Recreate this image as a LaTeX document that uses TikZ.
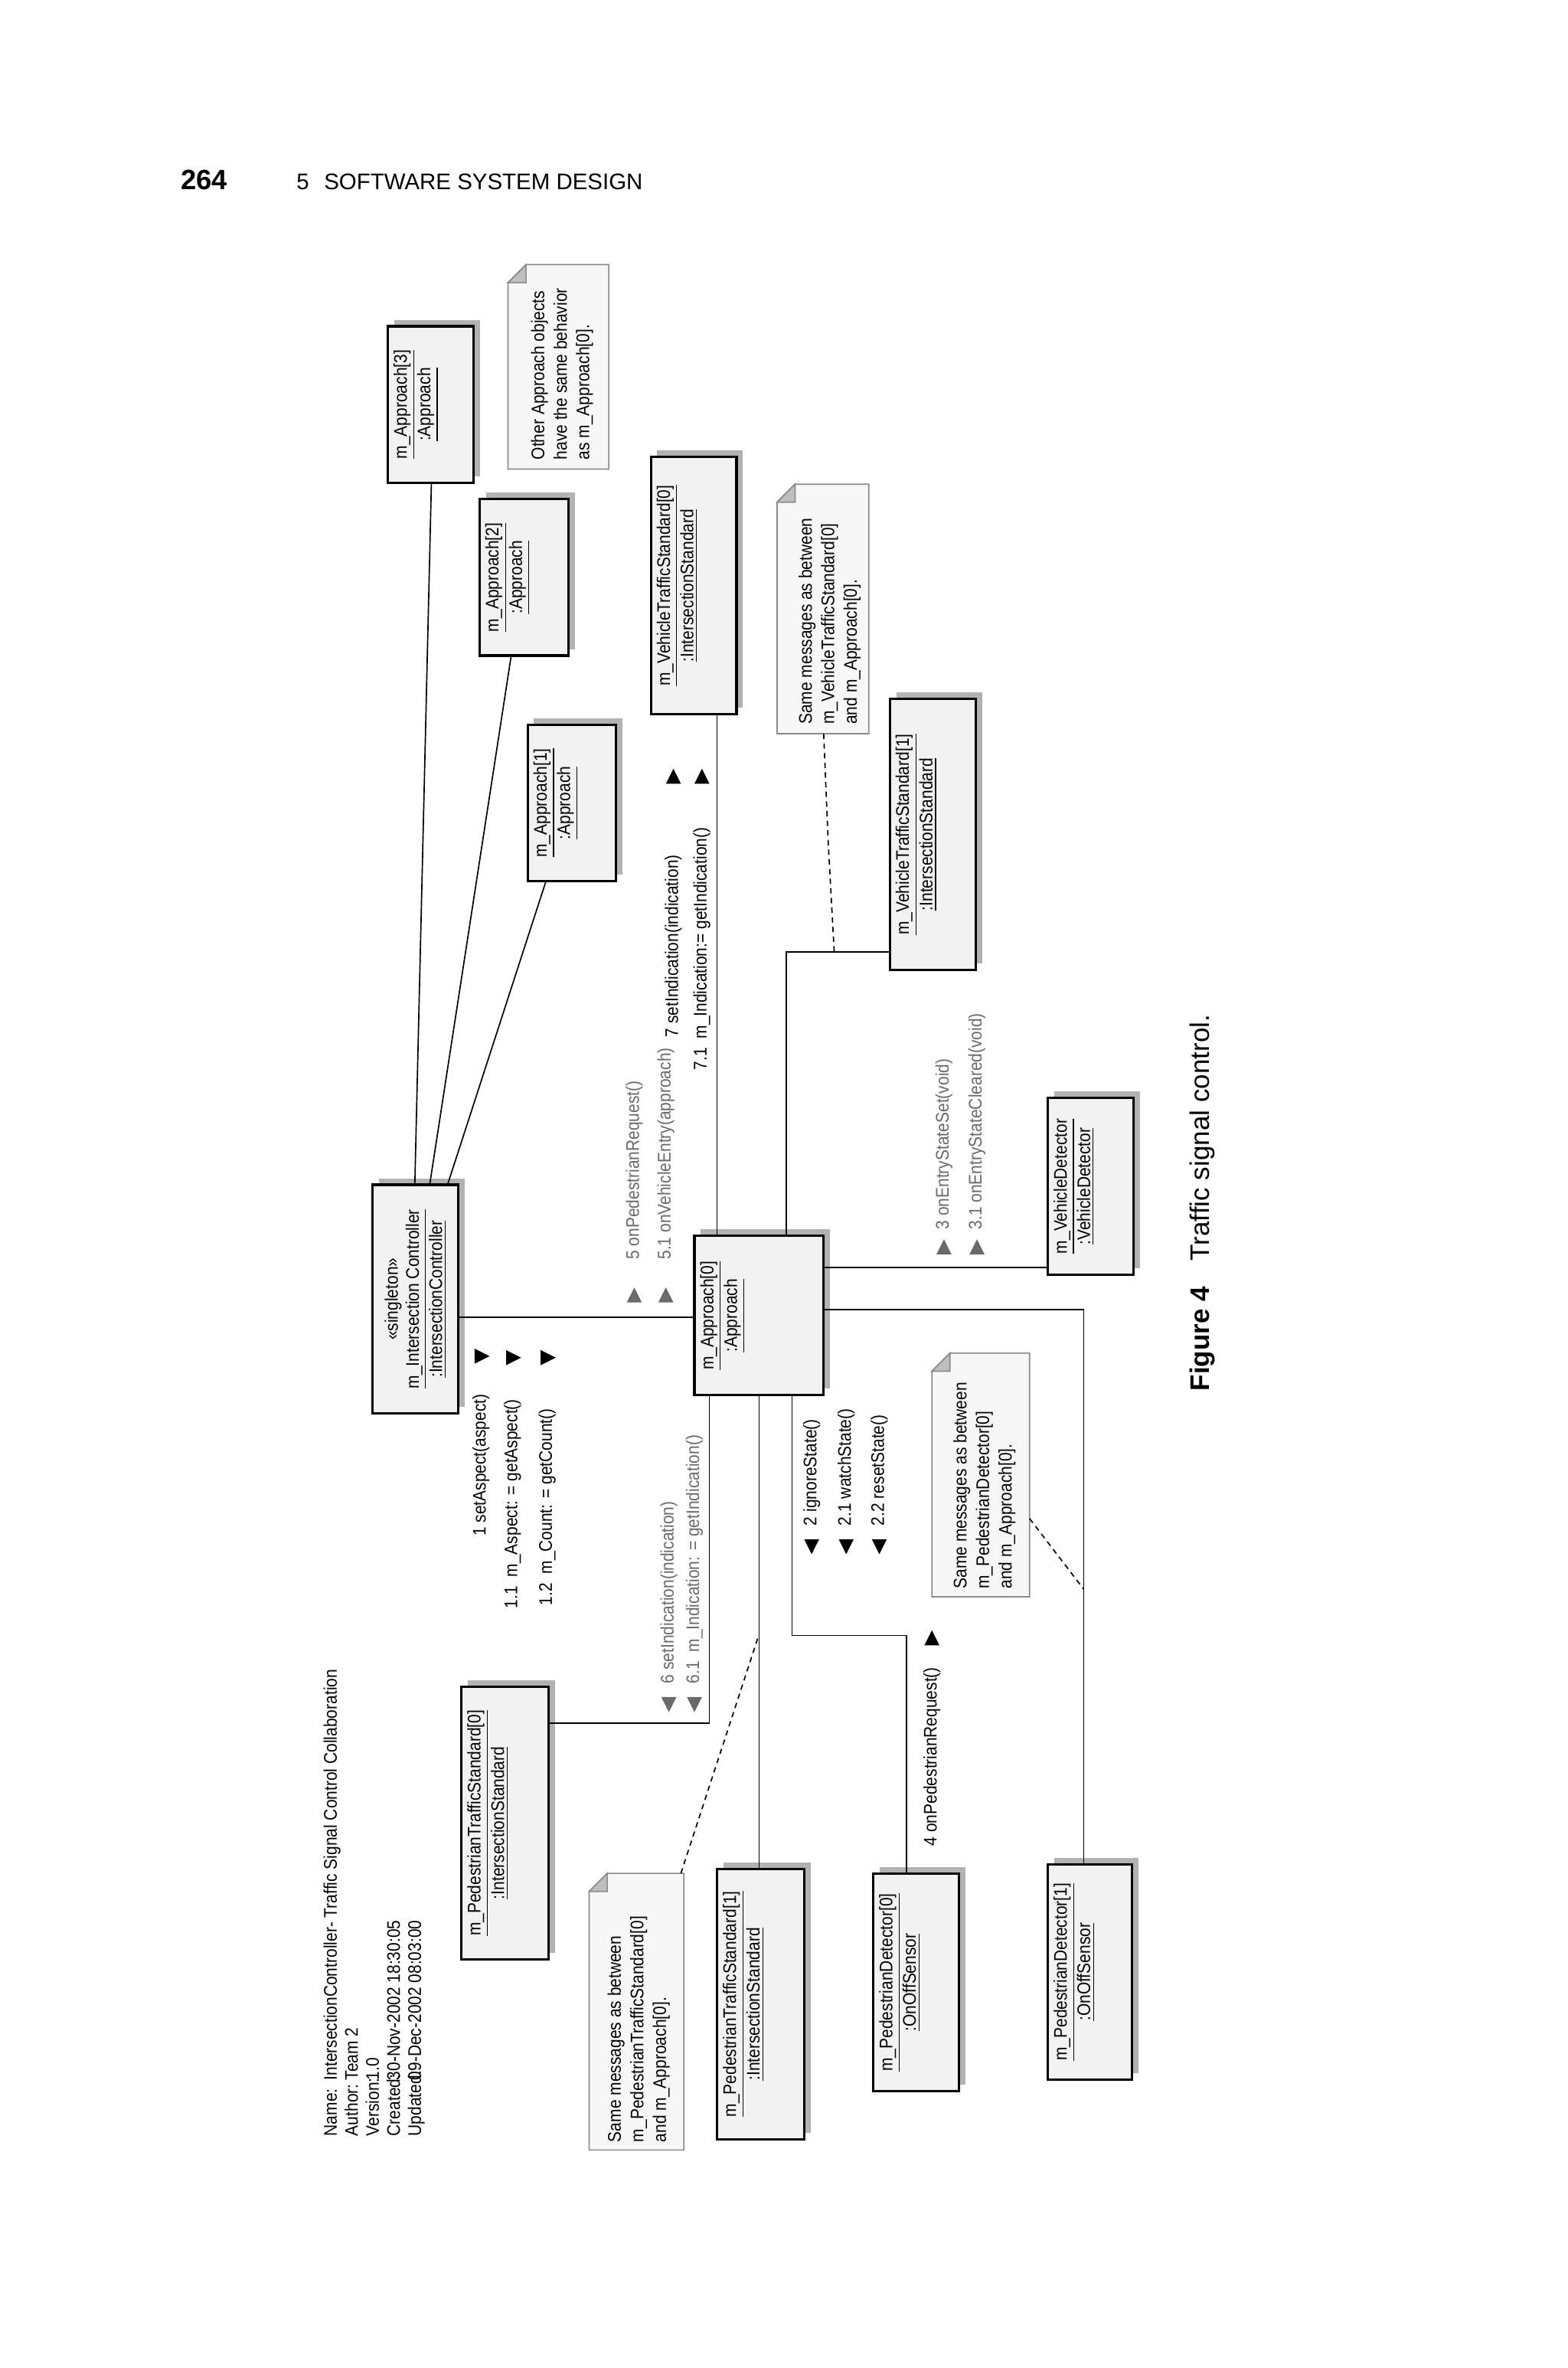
\documentclass[tikz,border=0pt]{standalone}
\usepackage{fontspec}
\setmainfont{Liberation Sans}[FakeStretch=0.88]
\newfontfamily\hdr{Liberation Sans}
\usetikzlibrary{calc,shadows}
\definecolor{boxfill}{HTML}{F2F2F2}
\definecolor{notefill}{HTML}{F7F7F7}
\definecolor{msggray}{HTML}{6A6A6A}
\begin{document}
\begin{tikzpicture}[x=0.7pt,y=-0.7pt,
 obj/.style={draw, line width=1.1pt, fill=boxfill, inner sep=0pt,
   drop shadow={shadow xshift=3pt, shadow yshift=3pt, fill=black!30, opacity=1}},
 lbl/.style={rotate=90, anchor=north, align=center, font=\fontsize{8.5}{9.8}\selectfont, inner sep=1pt},
 msg/.style={rotate=90, anchor=west, font=\fontsize{8.5}{10}\selectfont, inner sep=0pt},
 gmsg/.style={msg, text=msggray},
 link/.style={line width=0.6pt},
 nlink/.style={line width=0.6pt, dash pattern=on 2.5pt off 2pt},
 notebg/.style={draw=black!45, fill=notefill, line width=0.6pt},
 notetxt/.style={rotate=90, anchor=north west, align=left, font=\fontsize{8.5}{10.5}\selectfont, inner sep=0pt},
 tri/.pic={\fill (4pt,0)--(-3pt,3.5pt)--(-3pt,-3.5pt)--cycle;}
]
\useasboundingbox (0,0) rectangle (1043,1575);
\fill[white] (0,0) rectangle (1043,1575);

% header
\node[anchor=base west, inner sep=0, font=\hdr\bfseries\fontsize{13}{15}\selectfont] (pg) at (120,126) {264};
\node[anchor=base west, inner sep=0, font=\hdr\fontsize{10.5}{12}\selectfont] (hd) at (197,126) {5\hspace{7pt}SOFTWARE SYSTEM DESIGN};

% notes
\newcommand{\notebox}[4]{%
 \draw[notebg] (#1+12,#2) -- (#3,#2) -- (#3,#4) -- (#1,#4) -- (#1,#2+12) -- cycle;
 \filldraw[draw=black!45, fill=black!25, line width=0.6pt] (#1,#2+12) -- (#1+12,#2+12) -- (#1+12,#2) -- cycle;}
\notebox{338}{176}{405}{312}
\notebox{517}{322}{578}{488}
\notebox{620}{900}{685}{1062}
\notebox{392}{1246}{455}{1430}
\node[notetxt] (n1) at (353,306) {Other Approach objects\\have the same behavior\\as m\_Approach[0].};
\node[notetxt] (n2) at (531,482) {Same messages as between\\m\_VehicleTrafficStandard[0]\\and m\_Approach[0].};
\node[notetxt] (n3) at (634,1057) {Same messages as between\\m\_PedestrianDetector[0]\\and m\_Approach[0].};
\node[notetxt] (n4) at (404,1425) {Same messages as between\\m\_PedestrianTrafficStandard[0]\\and m\_Approach[0].};

% object boxes
\node[obj, minimum width=39.9pt, minimum height=72.8pt] (a3) at (286.5,269) {};
\node[obj, minimum width=41.3pt, minimum height=72.8pt] (a2) at (348.5,384) {};
\node[obj, minimum width=41.3pt, minimum height=72.8pt] (a1) at (380.5,534) {};
\node[obj, minimum width=39.9pt, minimum height=119.7pt] (vts0) at (461.5,389.5) {};
\node[obj, minimum width=39.9pt, minimum height=126pt] (vts1) at (620.5,555) {};
\node[obj, minimum width=39.9pt, minimum height=106.4pt] (ctrl) at (276.5,864) {};
\node[obj, minimum width=60.2pt, minimum height=74.2pt] (a0) at (505,875) {};
\node[obj, minimum width=39.9pt, minimum height=82.6pt] (vd) at (725.5,789) {};
\node[obj, minimum width=40.6pt, minimum height=126.7pt] (pts0) at (336,1212.5) {};
\node[obj, minimum width=40.6pt, minimum height=126pt] (pts1) at (506,1333) {};
\node[obj, minimum width=39.9pt, minimum height=101.5pt] (pd0) at (609.5,1318.5) {};
\node[obj, minimum width=39.2pt, minimum height=100.1pt] (pd1) at (725,1311.5) {};

\node[lbl] (ta3) at ($(a3.west)+(3,0)$) {\underline{m\_Approach[3]}\\\underline{:Approach}};
\node[lbl] (ta2) at ($(a2.west)+(3,0)$) {\underline{m\_Approach[2]}\\\underline{:Approach}};
\node[lbl] (ta1) at ($(a1.west)+(3,0)$) {\underline{m\_Approach[1]}\\\underline{:Approach}};
\node[lbl] (tv0) at ($(vts0.west)+(3,0)$) {\underline{m\_VehicleTrafficStandard[0]}\\\underline{:IntersectionStandard}};
\node[lbl] (tv1) at ($(vts1.west)+(3,0)$) {\underline{m\_VehicleTrafficStandard[1]}\\\underline{:IntersectionStandard}};
\node[lbl, anchor=center] (tc) at (ctrl) {«singleton»\\\underline{m\_Intersection Controller}\\\underline{:IntersectionController}};
\node[lbl] (t0) at ($(a0.west)+(3,0)$) {\underline{m\_Approach[0]}\\\underline{:Approach}};
\node[lbl] (tvd) at ($(vd.west)+(3,0)$) {\underline{m\_VehicleDetector}\\\underline{:VehicleDetector}};
\node[lbl] (tp0) at ($(pts0.west)+(3,0)$) {\underline{m\_PedestrianTrafficStandard[0]}\\\underline{:IntersectionStandard}};
\node[lbl] (tp1) at ($(pts1.west)+(3,0)$) {\underline{m\_PedestrianTrafficStandard[1]}\\\underline{:IntersectionStandard}};
\node[lbl] (td0) at ($(pd0.west)+(3,0)$) {\underline{m\_PedestrianDetector[0]}\\\underline{:OnOffSensor}};
\node[lbl] (td1) at ($(pd1.west)+(3,0)$) {\underline{m\_PedestrianDetector[1]}\\\underline{:OnOffSensor}};

% connectors
\draw[link] ($(ctrl.north)+(-0.5,0)$) -- ($(a3.south)+(0.5,0)$);
\draw[link] ($(ctrl.north)+(9.5,0)$) -- ($(a2.south)+(-8.5,0)$);
\draw[link] ($(ctrl.north)+(21.5,0)$) -- ($(a1.south)+(-17.5,0)$);
\coordinate (p4) at ($(a0.west)+(0,1)$);
\draw[link] (p4) -- (p4 -| ctrl.east);
\coordinate (p5) at ($(a0.north)+(-28,0)$);
\draw[link] (p5) -- (p5 |- vts0.south);
\coordinate (p6) at ($(a0.north)+(18,0)$);
\coordinate (q6) at ($(vts1.west)+(0,78)$);
\draw[link] (p6) |- (q6);
\coordinate (p7) at ($(a0.east)+(0,-32)$);
\draw[link] (p7) -- (p7 -| vd.west);
\coordinate (p8) at ($(a0.east)+(0,-4)$);
\coordinate (q8) at ($(pd1.north)+(-4,0)$);
\draw[link] (p8) -| (q8);
\coordinate (p9) at ($(a0.south)+(-33,0)$);
\coordinate (q9) at ($(pts0.east)+(0,-66.5)$);
\draw[link] (p9) |- (q9);
\draw[link] (a0.south) -- (a0.south |- pts1.north);
\coordinate (p11) at ($(a0.south)+(22,0)$);
\coordinate (q11) at ($(pd0.north)+(-6.5,0)$);
\draw[link] (p11) -- ++(0,159) -| (q11);

% note links
\coordinate (e2) at (548,488); \coordinate (f2) at (555,633);
\draw[nlink] (e2) -- (551,560) -- (f2);
\coordinate (e3) at (685,1010); \coordinate (f3) at (721,1057);
\draw[nlink] (e3) -- (f3);
\coordinate (e4) at (453,1246); \coordinate (f4) at (505,1087);
\draw[nlink] (e4) -- (f4);

% messages
\node[msg] (m1) at (320,1022) {1 setAspect(aspect)};
\node[msg] (m11) at (341,1070) {1.1\ \ m\_Aspect: = getAspect()};
\node[msg] (m12) at (364,1068) {1.2\ \ m\_Count: = getCount()};
\pic at (320,902) {tri}; \pic at (341,903) {tri}; \pic at (364,903) {tri};
\node[gmsg] (m5) at (422,838) {5 onPedestrianRequest()};
\node[gmsg] (m51) at (443,838) {5.1 onVehicleEntry(approach)};
\pic[rotate=90, msggray] at (422,862) {tri}; \pic[rotate=90, msggray] at (443,862) {tri};
\node[msg] (m7) at (448,690) {7 setIndication(indication)};
\node[msg] (m71) at (467,712) {7.1\ \ m\_Indication:= getIndication()};
\pic[rotate=90] at (448,517) {tri}; \pic[rotate=90] at (467,517) {tri};
\node[gmsg] (m3) at (628,818) {3 onEntryStateSet(void)};
\node[gmsg] (m31) at (650,818) {3.1 onEntryStateCleared(void)};
\pic[rotate=90, msggray] at (628,830) {tri}; \pic[rotate=90, msggray] at (650,830) {tri};
\node[msg] (m2) at (540,1015) {2 ignoreState()};
\node[msg] (m21) at (563,1015) {2.1 watchState()};
\node[msg] (m22) at (585,1015) {2.2 resetState()};
\pic[rotate=-90] at (540,1028) {tri}; \pic[rotate=-90] at (563,1028) {tri}; \pic[rotate=-90] at (585,1028) {tri};
\node[gmsg] (m6) at (445,1120) {6 setIndication(indication)};
\node[gmsg] (m61) at (462,1120) {6.1\ \ m\_Indication: = getIndication()};
\pic[rotate=-90, msggray] at (445,1133) {tri}; \pic[rotate=-90, msggray] at (462,1133) {tri};
\node[msg] (m4) at (620,1228) {4 onPedestrianRequest()};
\pic[rotate=90] at (620,1090) {tri};

% info block
\node[rotate=90, anchor=north west, align=left, inner sep=0pt, font=\fontsize{8.5}{9.8}\selectfont] (info) at (215,1421)
{\makebox[26pt][l]{Name:}IntersectionController- Traffic Signal Control Collaboration\\
 \makebox[26pt][l]{Author:}Team 2\\
 \makebox[26pt][l]{Version:}1.0\\
 \makebox[26pt][l]{Created:}30-Nov-2002 18:30:05\\
 \makebox[26pt][l]{Updated:}09-Dec-2002 08:03:00};

% caption
\node[rotate=90, inner sep=0pt, font=\hdr\fontsize{12.5}{14}\selectfont] (cap) at (800,800) {\textbf{Figure 4}\hspace{12pt}Traffic signal control.};
\end{tikzpicture}
\end{document}
